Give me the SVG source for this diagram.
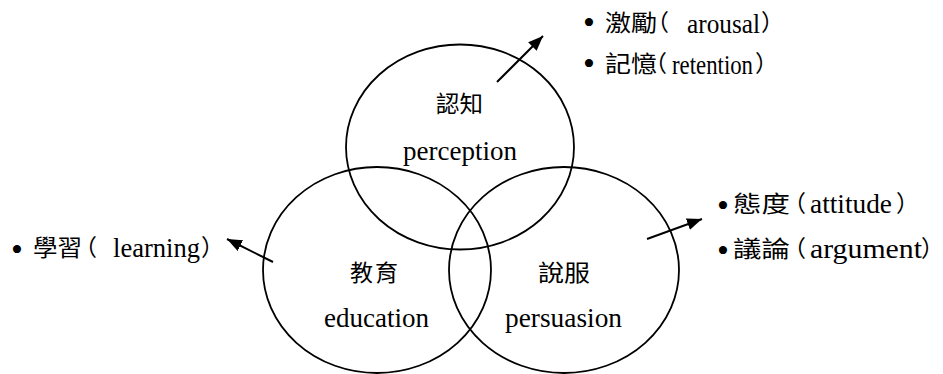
<svg xmlns="http://www.w3.org/2000/svg" width="943" height="374" viewBox="0 0 943 374">
  <style>
    .c { fill: none; stroke: #000; stroke-width: 1.8; }
    .a { fill: none; stroke: #000; stroke-width: 2; marker-end: url(#ah); }
    text { fill: #000; }
    .cj { font-family: "Noto Sans CJK TC", "Noto Sans CJK SC", sans-serif; font-size: 23px; }
    .la { font-family: "Liberation Serif", "Times New Roman", Tinos, "DejaVu Serif", serif; font-size: 27px; }
    .bu { font-family: "Liberation Serif", "Times New Roman", "DejaVu Serif", serif; font-size: 34px; text-anchor: middle; }
  </style>
  <defs>
    <marker id="ah" markerUnits="userSpaceOnUse" markerWidth="16" markerHeight="12" refX="15" refY="6" orient="auto">
      <path d="M0,0 L15,6 L0,12 z" fill="#000"/>
    </marker>
  </defs>
  <rect width="943" height="374" fill="#fff"/>

  <g id="perception">
    <ellipse class="c" cx="460" cy="147" rx="114" ry="102.5"/>
    <text class="cj" x="436" y="112" textLength="47" lengthAdjust="spacingAndGlyphs">認知</text>
    <text class="la" x="403" y="160" textLength="114" lengthAdjust="spacingAndGlyphs">perception</text>
  </g>
  <g id="education">
    <ellipse class="c" cx="377" cy="270" rx="114" ry="103"/>
    <text class="cj" x="350" y="281" textLength="48" lengthAdjust="spacing">教育</text>
    <text class="la" x="324" y="327" textLength="105" lengthAdjust="spacingAndGlyphs">education</text>
  </g>
  <g id="persuasion">
    <ellipse class="c" cx="564" cy="270" rx="115" ry="103"/>
    <text class="cj" x="538" y="281" textLength="52" lengthAdjust="spacingAndGlyphs">說服</text>
    <text class="la" x="505" y="327" textLength="117" lengthAdjust="spacingAndGlyphs">persuasion</text>
  </g>

  <g id="connectors">
    <line class="a" x1="497" y1="82" x2="543" y2="36"/>
    <line class="a" x1="273" y1="262" x2="227" y2="239"/>
    <line class="a" x1="647" y1="239" x2="702" y2="219"/>
  </g>

  <g id="list-perception">
    <text class="cj"><tspan class="bu" x="589" y="34">•</tspan><tspan x="605" y="31" textLength="52" lengthAdjust="spacingAndGlyphs">激勵</tspan><tspan x="646" y="31">（</tspan><tspan class="la" x="687" y="33" textLength="73" lengthAdjust="spacingAndGlyphs">arousal</tspan><tspan x="761" y="31">）</tspan></text>
    <text class="cj"><tspan class="bu" x="589" y="75">•</tspan><tspan x="605" y="72" textLength="52" lengthAdjust="spacingAndGlyphs">記憶</tspan><tspan x="644" y="72">（</tspan><tspan class="la" x="672" y="74" textLength="81" lengthAdjust="spacingAndGlyphs">retention</tspan><tspan x="755" y="72">）</tspan></text>
  </g>

  <g id="list-education">
    <text class="cj"><tspan class="bu" x="17" y="261">•</tspan><tspan x="33" y="256" textLength="49" lengthAdjust="spacingAndGlyphs">學習</tspan><tspan x="74" y="256">（</tspan><tspan class="la" x="113" y="257" textLength="87" lengthAdjust="spacingAndGlyphs">learning</tspan><tspan x="201" y="256">）</tspan></text>
  </g>

  <g id="list-persuasion">
    <text class="cj"><tspan class="bu" x="723" y="217">•</tspan><tspan x="733" y="212" textLength="57" lengthAdjust="spacingAndGlyphs">態度</tspan><tspan x="783" y="212">（</tspan><tspan class="la" x="810" y="213" textLength="82" lengthAdjust="spacingAndGlyphs">attitude</tspan><tspan x="896" y="212">）</tspan></text>
    <text class="cj"><tspan class="bu" x="723" y="262">•</tspan><tspan x="733" y="257" textLength="57" lengthAdjust="spacingAndGlyphs">議論</tspan><tspan x="783" y="257">（</tspan><tspan class="la" x="810" y="258" textLength="112" lengthAdjust="spacingAndGlyphs">argument</tspan><tspan x="921" y="257">）</tspan></text>
  </g>
</svg>
